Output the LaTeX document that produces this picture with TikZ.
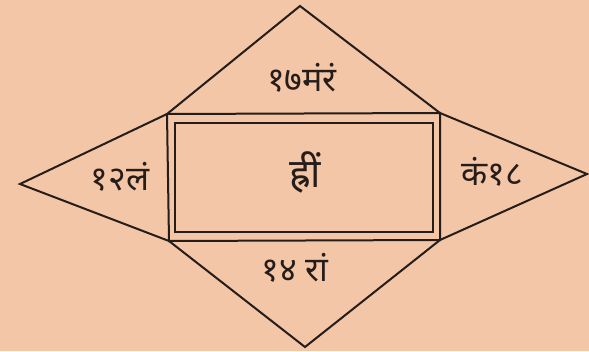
\documentclass[tikz,border=0pt]{standalone}
\usepackage{fontspec}
\newfontfamily\devfont[Script=Devanagari]{Noto Sans}
\usetikzlibrary{positioning}
\definecolor{paper}{RGB}{242,198,166}
\definecolor{ink}{RGB}{38,28,26}

\begin{document}
\begin{tikzpicture}[x=1pt, y=-1pt,
    edge/.style={draw=ink, line width=2pt, line join=miter},
    mantra/.style={font=\devfont\fontsize{34}{40}\selectfont, text=ink, inner sep=0pt}
  ]
  \fill[paper] (0,0) rectangle (589,351);
  \useasboundingbox (0,0) rectangle (589,351);

  % frame corners and points of the star
  \coordinate (tl) at (167,114);
  \coordinate (tr) at (440,113);
  \coordinate (br) at (440,240);
  \coordinate (bl) at (169,241);
  \coordinate (n) at (300,6);
  \coordinate (s) at (305,347);
  \coordinate (w) at (20,184);
  \coordinate (e) at (587,174);

  \draw[edge] (tl) -- (n) -- (tr) -- (e) -- (br) -- (s) -- (bl) -- (w) -- cycle;
  \draw[edge] (tl) -- (tr) -- (br) -- (bl) -- cycle;
  \draw[edge] (175,123) -- (433,123) -- (433,232) -- (175,232) -- cycle;

  \node[mantra] (top) at (302,78) {१७मंरं};
  \node[mantra] (left) at (120,177) {१२लं};
  \node[mantra] (right) at (492,172) {कं१८};
  \node[mantra] (bottom) at (295,268) {१४ रां};
  \node[mantra, font=\devfont\fontsize{40}{46}\selectfont] (mid) at (305,172) {ह्रीं};
\end{tikzpicture}
\end{document}
